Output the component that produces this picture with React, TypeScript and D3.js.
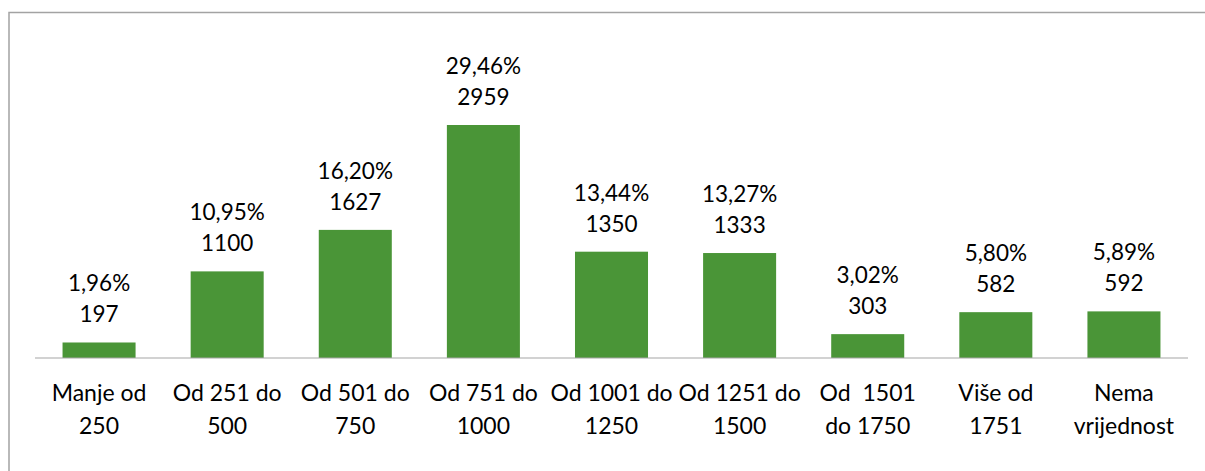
import { useEffect, useRef } from "react";
import * as d3 from "d3";

const categories = [
  "Manje od 250",
  "Od 251 do 500",
  "Od 501 do 750",
  "Od 751 do 1000",
  "Od 1001 do 1250",
  "Od 1251 do 1500",
  "Od  1501 do 1750",
  "Više od 1751",
  "Nema vrijednost",
];
// how the category labels wrap in the picture
const categoryLines = [
  ["Manje od", "250"],
  ["Od 251 do", "500"],
  ["Od 501 do", "750"],
  ["Od 751 do", "1000"],
  ["Od 1001 do", "1250"],
  ["Od 1251 do", "1500"],
  ["Od  1501", "do 1750"],
  ["Više od", "1751"],
  ["Nema", "vrijednost"],
];
const counts = [197, 1100, 1627, 2959, 1350, 1333, 303, 582, 592];
const percents = ["1,96%", "10,95%", "16,20%", "29,46%", "13,44%", "13,27%", "3,02%", "5,80%", "5,89%"];

const W = 1205;
const H = 471;
const FONT = "Lato, 'Open Sans', sans-serif";

const App = () => {
  const svgRef = useRef<SVGSVGElement>(null);

  useEffect(() => {
    const svg = d3.select(svgRef.current);
    svg.selectAll("*").remove();

    // chart frame (only top and left edges are visible)
    svg.append("path")
      .attr("d", `M9,${H} L9,12.5 L${W},12.5`)
      .attr("fill", "none")
      .attr("stroke", "#a3a3a3")
      .attr("stroke-width", 1.5);

    const x = d3.scaleBand()
      .domain(categories)
      .range([35, 1188])
      .paddingInner(0.43)
      .paddingOuter(0.215);

    const y = d3.scaleLinear()
      .domain([0, 3500])
      .range([358, 358 - (233 * 3500) / 2959]);

    const g = svg.append("g");

    // bars
    g.selectAll("rect.bar")
      .data(counts)
      .enter()
      .append("rect")
      .attr("class", "bar")
      .attr("x", (d, i) => x(categories[i])!)
      .attr("y", (d) => y(d))
      .attr("width", x.bandwidth())
      .attr("height", (d) => y(0) - y(d))
      .attr("fill", "#4a9537");

    // baseline
    g.append("line")
      .attr("x1", 35)
      .attr("x2", 1188)
      .attr("y1", y(0))
      .attr("y2", y(0))
      .attr("stroke", "#a6a6a6")
      .attr("stroke-width", 1.2);

    // data labels: percent over count
    const labels = g.selectAll("text.val")
      .data(counts)
      .enter()
      .append("text")
      .attr("class", "val")
      .attr("text-anchor", "middle")
      .attr("font-family", FONT)
      .attr("font-size", 22.5)
      .attr("fill", "#000");
    labels.append("tspan")
      .attr("x", (d, i) => x(categories[i])! + x.bandwidth() / 2)
      .attr("y", (d) => y(d) - 51)
      .text((d, i) => percents[i]);
    labels.append("tspan")
      .attr("x", (d, i) => x(categories[i])! + x.bandwidth() / 2)
      .attr("y", (d) => y(d) - 20)
      .text((d) => String(d));

    // category labels
    const ticks = g.selectAll("text.cat")
      .data(categoryLines)
      .enter()
      .append("text")
      .attr("class", "cat")
      .attr("text-anchor", "middle")
      .attr("font-family", FONT)
      .attr("font-size", 23)
      .attr("fill", "#000")
      .style("white-space", "pre");
    ticks.each(function (lines, i) {
      const t = d3.select(this);
      lines.forEach((line, j) => {
        t.append("tspan")
          .attr("x", x(categories[i])! + x.bandwidth() / 2)
          .attr("y", 401 + j * 33)
          .text(line);
      });
    });
  }, []);

  return (
    <svg
      ref={svgRef}
      width={W}
      height={H}
      style={{ position: "absolute", left: 0, top: 0, background: "#fff" }}
    />
  );
};

export default App;
